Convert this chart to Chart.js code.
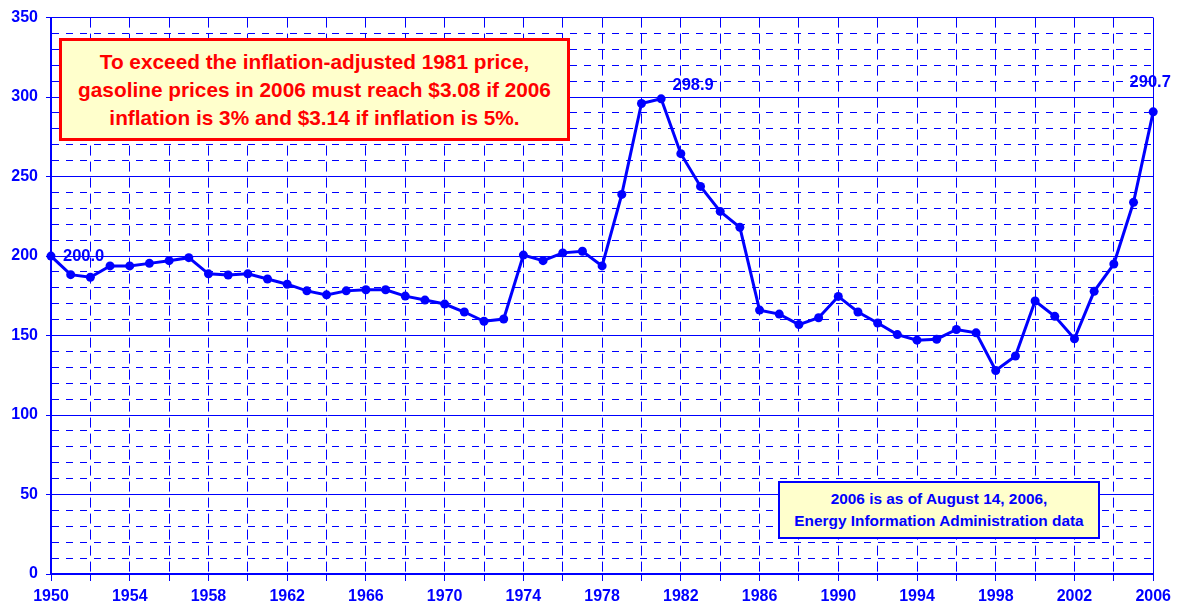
<!DOCTYPE html>
<html>
<head>
<meta charset="utf-8">
<title>Inflation-adjusted gasoline price index, 1950-2006</title>
<script src="https://cdn.jsdelivr.net/npm/chart.js@4/dist/chart.umd.min.js"></script>
<style>
  html, body { margin: 0; padding: 0; background: #fff; }
  #wrap { position: relative; width: 1177px; height: 607px; }
  #chart { position: absolute; left: 0; top: 0; }
  .note {
    position: absolute; box-sizing: border-box; background: #ffffcc;
    font-family: Arial, "Liberation Sans", sans-serif; font-weight: bold;
    text-align: center; display: flex; align-items: center; justify-content: center;
    white-space: nowrap;
  }
  #noteRed {
    left: 59px; top: 38px; width: 511px; height: 103px;
    border: 3px solid #ff0000; color: #ff0000; font-size: 20.8px; line-height: 28px;
  }
  #noteBlue {
    left: 778px; top: 481px; width: 322px; height: 58px;
    border: 2px solid #0000ff; color: #0000ff; font-size: 15.4px; line-height: 22px;
  }
</style>
</head>
<body>
<div id="wrap">
  <canvas id="chart" width="1177" height="607"></canvas>
  <div class="note" id="noteRed">To exceed the inflation-adjusted 1981 price,<br>gasoline prices in 2006 must reach $3.08 if 2006<br>inflation is 3% and $3.14 if inflation is 5%.</div>
  <div class="note" id="noteBlue">2006 is as of August 14, 2006,<br>Energy Information Administration data</div>
</div>
<script>
// ── Data ──
const years = [
  1950, 1951, 1952, 1953, 1954, 1955, 1956, 1957, 1958, 1959,
  1960, 1961, 1962, 1963, 1964, 1965, 1966, 1967, 1968, 1969,
  1970, 1971, 1972, 1973, 1974, 1975, 1976, 1977, 1978, 1979,
  1980, 1981, 1982, 1983, 1984, 1985, 1986, 1987, 1988, 1989,
  1990, 1991, 1992, 1993, 1994, 1995, 1996, 1997, 1998, 1999,
  2000, 2001, 2002, 2003, 2004, 2005, 2006
];
const priceIndex = [
  200.0, 188.3, 186.7, 193.8, 193.8, 195.4, 197.1, 199.0, 188.8, 188.1,
  188.8, 185.6, 182.3, 178.1, 175.6, 178.1, 178.8, 178.8, 174.8, 172.3,
  169.8, 164.8, 159.0, 160.4, 200.6, 197.1, 202.0, 203.0, 193.8, 238.8,
  296.0, 298.9, 264.4, 243.8, 228.1, 218.1, 166.0, 163.5, 156.9, 161.2,
  174.6, 164.8, 157.9, 150.6, 147.1, 147.7, 153.8, 151.7, 128.0, 137.1,
  171.7, 162.1, 148.0, 177.8, 195.0, 233.8, 290.7
];
const yTickLabels = [0, 50, 100, 150, 200, 250, 300, 350];
const xTickLabels = [1950, 1954, 1958, 1962, 1966, 1970, 1974, 1978, 1982, 1986, 1990, 1994, 1998, 2002, 2006];

// labelled points: year, pixel offset
const pointLabels = [
  { year: 1950, dx: 12, dy: 0, align: 'left' },
  { year: 1981, dx: 32, dy: -13, align: 'center' },
  { year: 2006, dx: -3, dy: -29, align: 'center' }
];

const BLUE = '#0000ff';
const FONT = 'Arial, "Liberation Sans", sans-serif';

// ── Point value labels ──
const valueLabelPlugin = {
  id: 'valueLabels',
  afterDatasetsDraw(chart) {
    const { ctx, scales: { x, y } } = chart;
    ctx.save();
    ctx.font = 'bold 16.5px ' + FONT;
    ctx.fillStyle = BLUE;
    ctx.textBaseline = 'middle';
    pointLabels.forEach(p => {
      const v = priceIndex[years.indexOf(p.year)];
      ctx.textAlign = p.align;
      ctx.fillText(v.toFixed(1), x.getPixelForValue(p.year) + p.dx, y.getPixelForValue(v) + p.dy);
    });
    ctx.restore();
  }
};

const isMajorY = ctx => ctx.tick && ctx.tick.value % 50 === 0;
const isEdgeX = ctx => ctx.tick && (ctx.tick.value === 1950 || ctx.tick.value === 2006);

new Chart(document.getElementById('chart'), {
  type: 'line',
  data: {
    datasets: [{
      data: years.map((yr, i) => ({ x: yr, y: priceIndex[i] })),
      borderColor: BLUE,
      backgroundColor: BLUE,
      borderWidth: 3,
      pointRadius: 4.5,
      pointBackgroundColor: BLUE,
      pointBorderWidth: 0,
      tension: 0,
      clip: false
    }]
  },
  options: {
    responsive: false,
    animation: false,
    layout: { padding: { left: 0, right: 23, top: 14, bottom: 0 } },
    plugins: { legend: { display: false }, tooltip: { enabled: false } },
    scales: {
      x: {
        type: 'linear', min: 1950, max: 2006,
        afterFit: s => { s.height = 33; },
        ticks: {
          stepSize: 2, autoSkip: false, maxRotation: 0, padding: 6,
          color: BLUE, font: { family: FONT, size: 16, weight: 'bold' },
          callback: v => xTickLabels.includes(v) ? String(v) : ''
        },
        grid: { color: BLUE, tickColor: BLUE, lineWidth: 1, tickLength: 7 },
        border: {
          display: true, color: BLUE, width: 2,
          dash: ctx => isEdgeX(ctx) ? [] : [10, 6]
        }
      },
      y: {
        min: 0, max: 350,
        afterFit: s => { s.width = 51; },
        ticks: {
          stepSize: 10, autoSkip: false, padding: 8,
          color: BLUE, font: { family: FONT, size: 16, weight: 'bold' },
          callback: v => yTickLabels.includes(v) ? String(v) : ''
        },
        grid: {
          color: BLUE, lineWidth: 1, tickLength: 5,
          tickColor: ctx => isMajorY(ctx) ? BLUE : 'rgba(0,0,0,0)'
        },
        border: {
          display: true, color: BLUE, width: 2,
          dash: ctx => isMajorY(ctx) ? [] : [7, 7]
        }
      }
    }
  },
  plugins: [valueLabelPlugin]
});
</script>
</body>
</html>
